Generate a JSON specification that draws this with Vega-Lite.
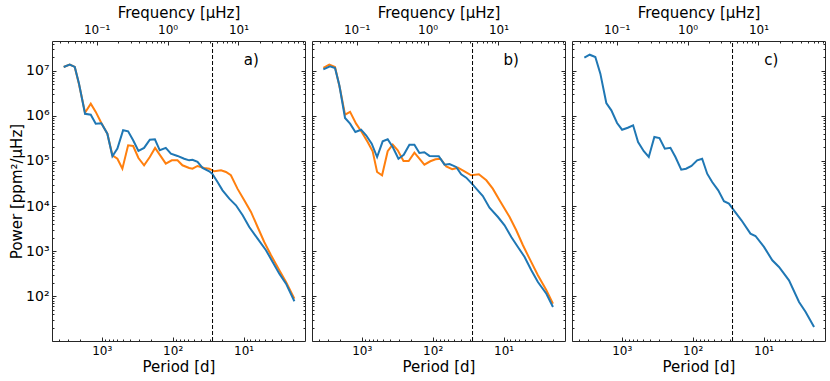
{
  "$schema": "https://vega.github.io/schema/vega-lite/v6.json",
  "background": "white",
  "padding": {"left": 9, "top": 4, "right": 0, "bottom": 0},
  "spacing": 5,
  "datasets": {
    "a": [
      {"P": 3443, "power": 12100000, "series": "run 1"},
      {"P": 2831, "power": 13600000, "series": "run 1"},
      {"P": 2404, "power": 12100000, "series": "run 1"},
      {"P": 2094, "power": 5000000, "series": "run 1"},
      {"P": 1722, "power": 1170000, "series": "run 1"},
      {"P": 1429, "power": 1860000, "series": "run 1"},
      {"P": 1216, "power": 1220000, "series": "run 1"},
      {"P": 1014, "power": 693000, "series": "run 1"},
      {"P": 834, "power": 402000, "series": "run 1"},
      {"P": 708, "power": 133000, "series": "run 1"},
      {"P": 602, "power": 112000, "series": "run 1"},
      {"P": 512, "power": 67300, "series": "run 1"},
      {"P": 425, "power": 222000, "series": "run 1"},
      {"P": 361, "power": 214000, "series": "run 1"},
      {"P": 304, "power": 116000, "series": "run 1"},
      {"P": 253, "power": 80000, "series": "run 1"},
      {"P": 210, "power": 122000, "series": "run 1"},
      {"P": 177, "power": 194000, "series": "run 1"},
      {"P": 150, "power": 133000, "series": "run 1"},
      {"P": 125, "power": 86900, "series": "run 1"},
      {"P": 103, "power": 103000, "series": "run 1"},
      {"P": 85.5, "power": 103000, "series": "run 1"},
      {"P": 72.8, "power": 80000, "series": "run 1"},
      {"P": 58.5, "power": 69800, "series": "run 1"},
      {"P": 52.5, "power": 67300, "series": "run 1"},
      {"P": 44.6, "power": 77300, "series": "run 1"},
      {"P": 35.9, "power": 69800, "series": "run 1"},
      {"P": 30.5, "power": 67300, "series": "run 1"},
      {"P": 25.9, "power": 58900, "series": "run 1"},
      {"P": 20.8, "power": 62100, "series": "run 1"},
      {"P": 17.7, "power": 56900, "series": "run 1"},
      {"P": 15.1, "power": 48100, "series": "run 1"},
      {"P": 12.2, "power": 24300, "series": "run 1"},
      {"P": 9.78, "power": 13400, "series": "run 1"},
      {"P": 7.86, "power": 7390, "series": "run 1"},
      {"P": 6.34, "power": 3430, "series": "run 1"},
      {"P": 5.11, "power": 1600, "series": "run 1"},
      {"P": 4.1, "power": 811, "series": "run 1"},
      {"P": 3.13, "power": 377, "series": "run 1"},
      {"P": 2.52, "power": 207, "series": "run 1"},
      {"P": 1.92, "power": 88.5, "series": "run 1"},
      {"P": 3443, "power": 12100000, "series": "run 2"},
      {"P": 2831, "power": 13600000, "series": "run 2"},
      {"P": 2404, "power": 12100000, "series": "run 2"},
      {"P": 2094, "power": 5150000, "series": "run 2"},
      {"P": 1722, "power": 1110000, "series": "run 2"},
      {"P": 1429, "power": 1060000, "series": "run 2"},
      {"P": 1216, "power": 669000, "series": "run 2"},
      {"P": 1014, "power": 682000, "series": "run 2"},
      {"P": 834, "power": 402000, "series": "run 2"},
      {"P": 708, "power": 127000, "series": "run 2"},
      {"P": 602, "power": 187000, "series": "run 2"},
      {"P": 500, "power": 478000, "series": "run 2"},
      {"P": 425, "power": 454000, "series": "run 2"},
      {"P": 361, "power": 287000, "series": "run 2"},
      {"P": 304, "power": 166000, "series": "run 2"},
      {"P": 253, "power": 194000, "series": "run 2"},
      {"P": 210, "power": 296000, "series": "run 2"},
      {"P": 178, "power": 302000, "series": "run 2"},
      {"P": 152, "power": 172000, "series": "run 2"},
      {"P": 125, "power": 194000, "series": "run 2"},
      {"P": 106, "power": 145000, "series": "run 2"},
      {"P": 85.5, "power": 129000, "series": "run 2"},
      {"P": 68.8, "power": 112000, "series": "run 2"},
      {"P": 58.5, "power": 103000, "series": "run 2"},
      {"P": 52.5, "power": 106000, "series": "run 2"},
      {"P": 44.6, "power": 95000, "series": "run 2"},
      {"P": 37.9, "power": 69800, "series": "run 2"},
      {"P": 30.5, "power": 58900, "series": "run 2"},
      {"P": 27.4, "power": 51000, "series": "run 2"},
      {"P": 23.3, "power": 34100, "series": "run 2"},
      {"P": 19.8, "power": 22300, "series": "run 2"},
      {"P": 15.9, "power": 14600, "series": "run 2"},
      {"P": 12.8, "power": 10400, "series": "run 2"},
      {"P": 10.3, "power": 6240, "series": "run 2"},
      {"P": 8.31, "power": 3430, "series": "run 2"},
      {"P": 6.34, "power": 1890, "series": "run 2"},
      {"P": 4.83, "power": 1050, "series": "run 2"},
      {"P": 3.89, "power": 575, "series": "run 2"},
      {"P": 3.13, "power": 317, "series": "run 2"},
      {"P": 2.52, "power": 190, "series": "run 2"},
      {"P": 1.92, "power": 77.4, "series": "run 2"}
    ],
    "b": [
      {"P": 3483, "power": 11600000, "series": "run 1"},
      {"P": 2871, "power": 13600000, "series": "run 1"},
      {"P": 2384, "power": 12100000, "series": "run 1"},
      {"P": 2027, "power": 3990000, "series": "run 1"},
      {"P": 1722, "power": 1060000, "series": "run 1"},
      {"P": 1462, "power": 1220000, "series": "run 1"},
      {"P": 1203, "power": 669000, "series": "run 1"},
      {"P": 1003, "power": 438000, "series": "run 1"},
      {"P": 826, "power": 263000, "series": "run 1"},
      {"P": 702, "power": 164000, "series": "run 1"},
      {"P": 608, "power": 56900, "series": "run 1"},
      {"P": 517, "power": 48100, "series": "run 1"},
      {"P": 431, "power": 164000, "series": "run 1"},
      {"P": 366, "power": 229000, "series": "run 1"},
      {"P": 311, "power": 172000, "series": "run 1"},
      {"P": 258, "power": 99800, "series": "run 1"},
      {"P": 218, "power": 99800, "series": "run 1"},
      {"P": 181, "power": 152000, "series": "run 1"},
      {"P": 154, "power": 112000, "series": "run 1"},
      {"P": 131, "power": 82600, "series": "run 1"},
      {"P": 108, "power": 98200, "series": "run 1"},
      {"P": 91.2, "power": 109000, "series": "run 1"},
      {"P": 77.6, "power": 112000, "series": "run 1"},
      {"P": 64.4, "power": 75400, "series": "run 1"},
      {"P": 53.1, "power": 65300, "series": "run 1"},
      {"P": 44.2, "power": 70800, "series": "run 1"},
      {"P": 35.6, "power": 58900, "series": "run 1"},
      {"P": 28.6, "power": 48100, "series": "run 1"},
      {"P": 22.3, "power": 50600, "series": "run 1"},
      {"P": 17.5, "power": 37200, "series": "run 1"},
      {"P": 14.2, "power": 24300, "series": "run 1"},
      {"P": 11.4, "power": 13400, "series": "run 1"},
      {"P": 8.22, "power": 5710, "series": "run 1"},
      {"P": 6.62, "power": 2900, "series": "run 1"},
      {"P": 5.33, "power": 1350, "series": "run 1"},
      {"P": 4.3, "power": 681, "series": "run 1"},
      {"P": 3.28, "power": 292, "series": "run 1"},
      {"P": 2.49, "power": 136, "series": "run 1"},
      {"P": 2.01, "power": 68.5, "series": "run 1"},
      {"P": 3483, "power": 10700000, "series": "run 2"},
      {"P": 2805, "power": 12500000, "series": "run 2"},
      {"P": 2384, "power": 11500000, "series": "run 2"},
      {"P": 2072, "power": 4740000, "series": "run 2"},
      {"P": 1722, "power": 896000, "series": "run 2"},
      {"P": 1462, "power": 669000, "series": "run 2"},
      {"P": 1231, "power": 438000, "series": "run 2"},
      {"P": 1023, "power": 492000, "series": "run 2"},
      {"P": 869, "power": 370000, "series": "run 2"},
      {"P": 724, "power": 241000, "series": "run 2"},
      {"P": 608, "power": 122000, "series": "run 2"},
      {"P": 507, "power": 272000, "series": "run 2"},
      {"P": 431, "power": 302000, "series": "run 2"},
      {"P": 366, "power": 204000, "series": "run 2"},
      {"P": 304, "power": 112000, "series": "run 2"},
      {"P": 256, "power": 137000, "series": "run 2"},
      {"P": 213, "power": 229000, "series": "run 2"},
      {"P": 181, "power": 229000, "series": "run 2"},
      {"P": 154, "power": 150000, "series": "run 2"},
      {"P": 131, "power": 156000, "series": "run 2"},
      {"P": 111, "power": 129000, "series": "run 2"},
      {"P": 82, "power": 127000, "series": "run 2"},
      {"P": 68.1, "power": 82600, "series": "run 2"},
      {"P": 57.9, "power": 85000, "series": "run 2"},
      {"P": 46.6, "power": 73500, "series": "run 2"},
      {"P": 39.6, "power": 50600, "series": "run 2"},
      {"P": 33.6, "power": 42500, "series": "run 2"},
      {"P": 28, "power": 31300, "series": "run 2"},
      {"P": 23.1, "power": 22300, "series": "run 2"},
      {"P": 19.6, "power": 16700, "series": "run 2"},
      {"P": 15.8, "power": 9200, "series": "run 2"},
      {"P": 12, "power": 5710, "series": "run 2"},
      {"P": 9.68, "power": 3750, "series": "run 2"},
      {"P": 7.78, "power": 2060, "series": "run 2"},
      {"P": 6.28, "power": 1240, "series": "run 2"},
      {"P": 5.05, "power": 743, "series": "run 2"},
      {"P": 4.06, "power": 377, "series": "run 2"},
      {"P": 3.28, "power": 207, "series": "run 2"},
      {"P": 2.49, "power": 114, "series": "run 2"},
      {"P": 2.01, "power": 58, "series": "run 2"}
    ],
    "c": [
      {"P": 3373, "power": 19400000, "series": "run 2"},
      {"P": 2831, "power": 22600000, "series": "run 2"},
      {"P": 2360, "power": 20100000, "series": "run 2"},
      {"P": 2005, "power": 8590000, "series": "run 2"},
      {"P": 1652, "power": 1920000, "series": "run 2"},
      {"P": 1403, "power": 1320000, "series": "run 2"},
      {"P": 1165, "power": 693000, "series": "run 2"},
      {"P": 990, "power": 492000, "series": "run 2"},
      {"P": 822, "power": 545000, "series": "run 2"},
      {"P": 692, "power": 617000, "series": "run 2"},
      {"P": 589, "power": 263000, "series": "run 2"},
      {"P": 489, "power": 164000, "series": "run 2"},
      {"P": 416, "power": 122000, "series": "run 2"},
      {"P": 347, "power": 340000, "series": "run 2"},
      {"P": 294, "power": 322000, "series": "run 2"},
      {"P": 247, "power": 187000, "series": "run 2"},
      {"P": 206, "power": 196000, "series": "run 2"},
      {"P": 175, "power": 122000, "series": "run 2"},
      {"P": 145, "power": 64000, "series": "run 2"},
      {"P": 124, "power": 67300, "series": "run 2"},
      {"P": 104, "power": 77300, "series": "run 2"},
      {"P": 86.4, "power": 103000, "series": "run 2"},
      {"P": 73.5, "power": 112000, "series": "run 2"},
      {"P": 62.4, "power": 52100, "series": "run 2"},
      {"P": 53.1, "power": 34100, "series": "run 2"},
      {"P": 43.6, "power": 22300, "series": "run 2"},
      {"P": 36.2, "power": 12800, "series": "run 2"},
      {"P": 30.8, "power": 11300, "series": "run 2"},
      {"P": 26.2, "power": 8050, "series": "run 2"},
      {"P": 20.5, "power": 4830, "series": "run 2"},
      {"P": 15.3, "power": 2440, "series": "run 2"},
      {"P": 13, "power": 2170, "series": "run 2"},
      {"P": 9.87, "power": 1240, "series": "run 2"},
      {"P": 7.53, "power": 628, "series": "run 2"},
      {"P": 6.06, "power": 446, "series": "run 2"},
      {"P": 4.38, "power": 226, "series": "run 2"},
      {"P": 3.16, "power": 74.8, "series": "run 2"},
      {"P": 2.55, "power": 44.9, "series": "run 2"},
      {"P": 1.94, "power": 20.9, "series": "run 2"}
    ]
  },
  "hconcat": [
    {
      "width": 253, "height": 300,
      "resolve": {"scale": {"x": "independent", "y": "independent"}},
      "layer": [
        {
          "data": {"name": "a"},
          "mark": {"type": "line", "strokeWidth": 2, "clip": true},
          "encoding": {
            "x": {"field": "P", "type": "quantitative",
              "scale": {"type": "log", "domain": [1.36, 5035], "reverse": true, "nice": false},
              "axis": {"orient": "bottom", "title": "Period [d]", "values": [2,3,4,5,6,7,8,9,10,20,30,40,50,60,70,80,90,100,200,300,400,500,600,700,800,900,1000,2000,3000,4000,5000],
                "labelExpr": "datum.value == 1000 ? '10³' : datum.value == 100 ? '10²' : datum.value == 10 ? '10¹' : ''",
                "tickSize": {"condition": {"test": "abs(log(datum.value)/LN10 - round(log(datum.value)/LN10)) < 0.001", "value": -4}, "value": -2},
                "labelPadding": 8, "titlePadding": 1}},
            "y": {"field": "power", "type": "quantitative",
              "scale": {"type": "log", "domain": [10.2, 45500000], "nice": false},
              "axis": {"orient": "left", "title": "Power [ppm²/μHz]", "labelFontSize": 14, "values": [20,30,40,50,60,70,80,90,100,200,300,400,500,600,700,800,900,1000,2000,3000,4000,5000,6000,7000,8000,9000,10000,20000,30000,40000,50000,60000,70000,80000,90000,100000,200000,300000,400000,500000,600000,700000,800000,900000,1000000,2000000,3000000,4000000,5000000,6000000,7000000,8000000,9000000,10000000,20000000,30000000,40000000],
                "labelExpr": "datum.value == 100 ? '10²' : datum.value == 1000 ? '10³' : datum.value == 10000 ? '10⁴' : datum.value == 100000 ? '10⁵' : datum.value == 1000000 ? '10⁶' : datum.value == 10000000 ? '10⁷' : ''",
                "tickSize": {"condition": {"test": "abs(log(datum.value)/LN10 - round(log(datum.value)/LN10)) < 0.001", "value": -4}, "value": -2},
                "labelPadding": 7, "titlePadding": 1}},
            "color": {"field": "series", "type": "nominal", "scale": {"domain": ["run 1", "run 2"], "range": ["#ff7f0e", "#1f77b4"]}, "legend": null}
          }
        },
        {
          "data": {"values": [{}]},
          "mark": {"type": "rule", "strokeDash": [4, 2], "strokeWidth": 1, "color": "black"},
          "encoding": {
            "x": {"datum": 4.307, "type": "quantitative",
              "scale": {"type": "log", "domain": [0.023436, 86.76], "nice": false},
              "axis": {"orient": "top", "title": "Frequency [μHz]", "values": [0.03,0.04,0.05,0.06,0.07,0.08,0.09,0.1,0.2,0.3,0.4,0.5,0.6,0.7,0.8,0.9,1,2,3,4,5,6,7,8,9,10,20,30,40,50,60,70,80],
                "labelExpr": "datum.value == 0.1 ? '10⁻¹' : datum.value == 1 ? '10⁰' : datum.value == 10 ? '10¹' : ''",
                "tickSize": {"condition": {"test": "abs(log(datum.value)/LN10 - round(log(datum.value)/LN10)) < 0.001", "value": -4}, "value": -2},
                "labelPadding": 9, "titlePadding": 1}},
            "y": {"datum": 10.2, "type": "quantitative",
              "scale": {"type": "log", "domain": [10.2, 45500000], "nice": false},
              "axis": {"orient": "right", "title": null, "labels": false, "values": [20,30,40,50,60,70,80,90,100,200,300,400,500,600,700,800,900,1000,2000,3000,4000,5000,6000,7000,8000,9000,10000,20000,30000,40000,50000,60000,70000,80000,90000,100000,200000,300000,400000,500000,600000,700000,800000,900000,1000000,2000000,3000000,4000000,5000000,6000000,7000000,8000000,9000000,10000000,20000000,30000000,40000000],
                "tickSize": {"condition": {"test": "abs(log(datum.value)/LN10 - round(log(datum.value)/LN10)) < 0.001", "value": -4}, "value": -2}}},
            "y2": {"datum": 45500000}
          }
        },
        {
          "data": {"values": [{}]},
          "mark": {"type": "text", "fontSize": 15, "font": "DejaVu Sans", "color": "black", "align": "center", "baseline": "middle"},
          "encoding": {
            "x": {"datum": 7.8, "type": "quantitative", "scale": {"type": "log", "domain": [1.36, 5035], "reverse": true, "nice": false}, "axis": null},
            "y": {"datum": 17300000, "type": "quantitative", "scale": {"type": "log", "domain": [10.2, 45500000], "nice": false}, "axis": null},
            "text": {"value": "a)"}
          }
        }
      ]
    },
    {
      "width": 253, "height": 300,
      "resolve": {"scale": {"x": "independent", "y": "independent"}},
      "layer": [
        {
          "data": {"name": "b"},
          "mark": {"type": "line", "strokeWidth": 2, "clip": true},
          "encoding": {
            "x": {"field": "P", "type": "quantitative",
              "scale": {"type": "log", "domain": [1.36, 5035], "reverse": true, "nice": false},
              "axis": {"orient": "bottom", "title": "Period [d]", "values": [2,3,4,5,6,7,8,9,10,20,30,40,50,60,70,80,90,100,200,300,400,500,600,700,800,900,1000,2000,3000,4000,5000],
                "labelExpr": "datum.value == 1000 ? '10³' : datum.value == 100 ? '10²' : datum.value == 10 ? '10¹' : ''",
                "tickSize": {"condition": {"test": "abs(log(datum.value)/LN10 - round(log(datum.value)/LN10)) < 0.001", "value": -4}, "value": -2},
                "labelPadding": 8, "titlePadding": 1}},
            "y": {"field": "power", "type": "quantitative",
              "scale": {"type": "log", "domain": [10.2, 45500000], "nice": false},
              "axis": {"orient": "left", "title": null, "labels": false, "values": [20,30,40,50,60,70,80,90,100,200,300,400,500,600,700,800,900,1000,2000,3000,4000,5000,6000,7000,8000,9000,10000,20000,30000,40000,50000,60000,70000,80000,90000,100000,200000,300000,400000,500000,600000,700000,800000,900000,1000000,2000000,3000000,4000000,5000000,6000000,7000000,8000000,9000000,10000000,20000000,30000000,40000000],
                "tickSize": {"condition": {"test": "abs(log(datum.value)/LN10 - round(log(datum.value)/LN10)) < 0.001", "value": -4}, "value": -2}}},
            "color": {"field": "series", "type": "nominal", "scale": {"domain": ["run 1", "run 2"], "range": ["#ff7f0e", "#1f77b4"]}, "legend": null}
          }
        },
        {
          "data": {"values": [{}]},
          "mark": {"type": "rule", "strokeDash": [4, 2], "strokeWidth": 1, "color": "black"},
          "encoding": {
            "x": {"datum": 4.307, "type": "quantitative",
              "scale": {"type": "log", "domain": [0.023436, 86.76], "nice": false},
              "axis": {"orient": "top", "title": "Frequency [μHz]", "values": [0.03,0.04,0.05,0.06,0.07,0.08,0.09,0.1,0.2,0.3,0.4,0.5,0.6,0.7,0.8,0.9,1,2,3,4,5,6,7,8,9,10,20,30,40,50,60,70,80],
                "labelExpr": "datum.value == 0.1 ? '10⁻¹' : datum.value == 1 ? '10⁰' : datum.value == 10 ? '10¹' : ''",
                "tickSize": {"condition": {"test": "abs(log(datum.value)/LN10 - round(log(datum.value)/LN10)) < 0.001", "value": -4}, "value": -2},
                "labelPadding": 9, "titlePadding": 1}},
            "y": {"datum": 10.2, "type": "quantitative",
              "scale": {"type": "log", "domain": [10.2, 45500000], "nice": false},
              "axis": {"orient": "right", "title": null, "labels": false, "values": [20,30,40,50,60,70,80,90,100,200,300,400,500,600,700,800,900,1000,2000,3000,4000,5000,6000,7000,8000,9000,10000,20000,30000,40000,50000,60000,70000,80000,90000,100000,200000,300000,400000,500000,600000,700000,800000,900000,1000000,2000000,3000000,4000000,5000000,6000000,7000000,8000000,9000000,10000000,20000000,30000000,40000000],
                "tickSize": {"condition": {"test": "abs(log(datum.value)/LN10 - round(log(datum.value)/LN10)) < 0.001", "value": -4}, "value": -2}}},
            "y2": {"datum": 45500000}
          }
        },
        {
          "data": {"values": [{}]},
          "mark": {"type": "text", "fontSize": 15, "font": "DejaVu Sans", "color": "black", "align": "center", "baseline": "middle"},
          "encoding": {
            "x": {"datum": 7.8, "type": "quantitative", "scale": {"type": "log", "domain": [1.36, 5035], "reverse": true, "nice": false}, "axis": null},
            "y": {"datum": 17300000, "type": "quantitative", "scale": {"type": "log", "domain": [10.2, 45500000], "nice": false}, "axis": null},
            "text": {"value": "b)"}
          }
        }
      ]
    },
    {
      "width": 253, "height": 300,
      "resolve": {"scale": {"x": "independent", "y": "independent"}},
      "layer": [
        {
          "data": {"name": "c"},
          "mark": {"type": "line", "strokeWidth": 2, "clip": true},
          "encoding": {
            "x": {"field": "P", "type": "quantitative",
              "scale": {"type": "log", "domain": [1.36, 5035], "reverse": true, "nice": false},
              "axis": {"orient": "bottom", "title": "Period [d]", "values": [2,3,4,5,6,7,8,9,10,20,30,40,50,60,70,80,90,100,200,300,400,500,600,700,800,900,1000,2000,3000,4000,5000],
                "labelExpr": "datum.value == 1000 ? '10³' : datum.value == 100 ? '10²' : datum.value == 10 ? '10¹' : ''",
                "tickSize": {"condition": {"test": "abs(log(datum.value)/LN10 - round(log(datum.value)/LN10)) < 0.001", "value": -4}, "value": -2},
                "labelPadding": 8, "titlePadding": 1}},
            "y": {"field": "power", "type": "quantitative",
              "scale": {"type": "log", "domain": [10.2, 45500000], "nice": false},
              "axis": {"orient": "left", "title": null, "labels": false, "values": [20,30,40,50,60,70,80,90,100,200,300,400,500,600,700,800,900,1000,2000,3000,4000,5000,6000,7000,8000,9000,10000,20000,30000,40000,50000,60000,70000,80000,90000,100000,200000,300000,400000,500000,600000,700000,800000,900000,1000000,2000000,3000000,4000000,5000000,6000000,7000000,8000000,9000000,10000000,20000000,30000000,40000000],
                "tickSize": {"condition": {"test": "abs(log(datum.value)/LN10 - round(log(datum.value)/LN10)) < 0.001", "value": -4}, "value": -2}}},
            "color": {"field": "series", "type": "nominal", "scale": {"domain": ["run 1", "run 2"], "range": ["#ff7f0e", "#1f77b4"]}, "legend": null}
          }
        },
        {
          "data": {"values": [{}]},
          "mark": {"type": "rule", "strokeDash": [4, 2], "strokeWidth": 1, "color": "black"},
          "encoding": {
            "x": {"datum": 4.307, "type": "quantitative",
              "scale": {"type": "log", "domain": [0.023436, 86.76], "nice": false},
              "axis": {"orient": "top", "title": "Frequency [μHz]", "values": [0.03,0.04,0.05,0.06,0.07,0.08,0.09,0.1,0.2,0.3,0.4,0.5,0.6,0.7,0.8,0.9,1,2,3,4,5,6,7,8,9,10,20,30,40,50,60,70,80],
                "labelExpr": "datum.value == 0.1 ? '10⁻¹' : datum.value == 1 ? '10⁰' : datum.value == 10 ? '10¹' : ''",
                "tickSize": {"condition": {"test": "abs(log(datum.value)/LN10 - round(log(datum.value)/LN10)) < 0.001", "value": -4}, "value": -2},
                "labelPadding": 9, "titlePadding": 1}},
            "y": {"datum": 10.2, "type": "quantitative",
              "scale": {"type": "log", "domain": [10.2, 45500000], "nice": false},
              "axis": {"orient": "right", "title": null, "labels": false, "values": [20,30,40,50,60,70,80,90,100,200,300,400,500,600,700,800,900,1000,2000,3000,4000,5000,6000,7000,8000,9000,10000,20000,30000,40000,50000,60000,70000,80000,90000,100000,200000,300000,400000,500000,600000,700000,800000,900000,1000000,2000000,3000000,4000000,5000000,6000000,7000000,8000000,9000000,10000000,20000000,30000000,40000000],
                "tickSize": {"condition": {"test": "abs(log(datum.value)/LN10 - round(log(datum.value)/LN10)) < 0.001", "value": -4}, "value": -2}}},
            "y2": {"datum": 45500000}
          }
        },
        {
          "data": {"values": [{}]},
          "mark": {"type": "text", "fontSize": 15, "font": "DejaVu Sans", "color": "black", "align": "center", "baseline": "middle"},
          "encoding": {
            "x": {"datum": 7.8, "type": "quantitative", "scale": {"type": "log", "domain": [1.36, 5035], "reverse": true, "nice": false}, "axis": null},
            "y": {"datum": 17300000, "type": "quantitative", "scale": {"type": "log", "domain": [10.2, 45500000], "nice": false}, "axis": null},
            "text": {"value": "c)"}
          }
        }
      ]
    }
  ],
  "config": {
    "view": {"stroke": "#262626", "strokeWidth": 1},
    "font": "DejaVu Sans",
    "axis": {
      "domain": false, "grid": false,
      "tickColor": "#262626", "tickWidth": 1,
      "labelColor": "black", "labelFont": "DejaVu Sans", "labelFontSize": 12,
      "titleFont": "DejaVu Sans", "titleFontSize": 15, "titleFontWeight": "normal", "titleColor": "black",
      "labelFlush": false, "labelOverlap": false, "labelBound": false
    }
  }
}
